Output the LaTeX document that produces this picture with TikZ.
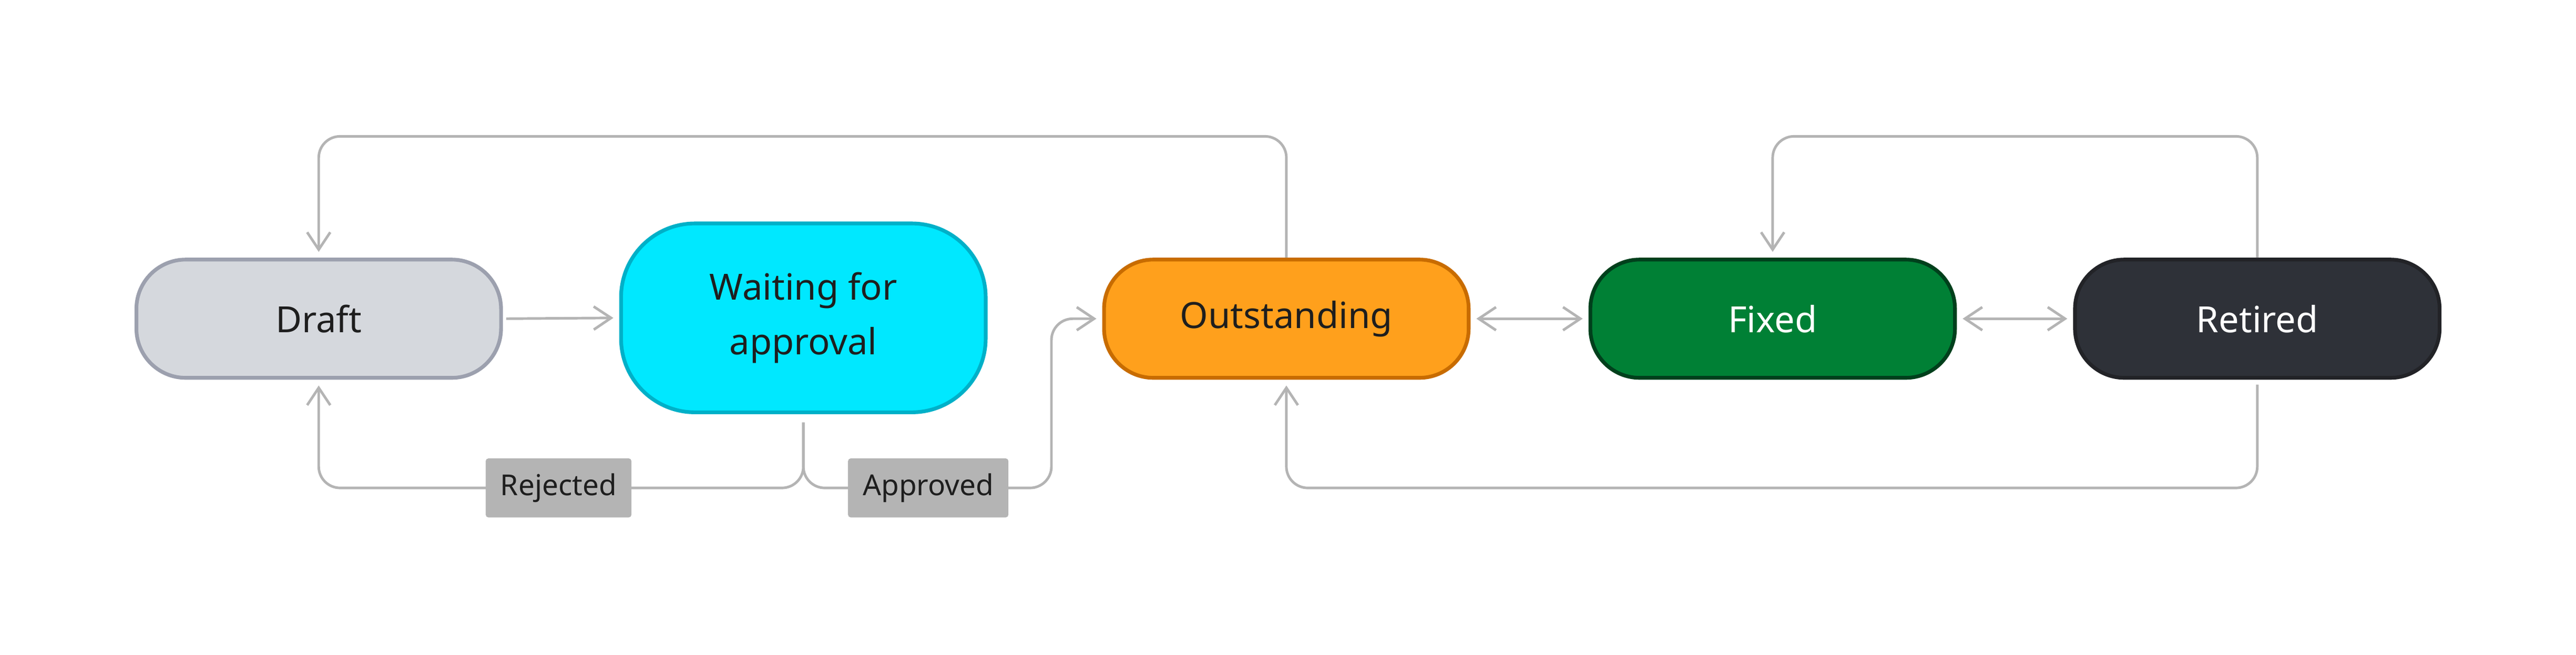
\documentclass[tikz,border=0pt]{standalone}
\usepackage{fontspec}
\setmainfont{Noto Sans}
\usetikzlibrary{arrows.meta}
\definecolor{conn}{HTML}{B4B4B4}
\definecolor{dfill}{HTML}{D5D8DD}\definecolor{ddraw}{HTML}{9CA0AE}
\definecolor{wfill}{HTML}{00E8FF}\definecolor{wdraw}{HTML}{00B0C8}
\definecolor{ofill}{HTML}{FFA01C}\definecolor{odraw}{HTML}{C86C00}
\definecolor{ffill}{HTML}{008035}\definecolor{fdraw}{HTML}{00401C}
\definecolor{rfill}{HTML}{2E3138}\definecolor{rdraw}{HTML}{222327}
\definecolor{txt}{HTML}{1E1E1E}
\tikzset{
 state/.style={draw, line width=1.3pt, rounded corners=0.6cm, minimum width=4.44cm, minimum height=1.44cm, align=center, font=\fontsize{12.5}{19}\selectfont, text=txt},
 lab/.style={fill=conn, rounded corners=1pt, minimum height=0.72cm, inner xsep=0.18cm, font=\fontsize{10}{12}\selectfont, text=txt},
 conn/.style={draw=conn, line width=0.9pt, rounded corners=0.26cm},
 tip/.style={-{Straight Barb[length=6pt,width=8pt]}, shorten >=2pt},
 tips/.style={{Straight Barb[length=6pt,width=8pt]}-{Straight Barb[length=6pt,width=8pt]}, shorten >=2pt, shorten <=2pt},
}
\begin{document}
\begin{tikzpicture}[x=0.02cm,y=-0.02cm]
\useasboundingbox (0,0) rectangle (1568,398.4);
\node[state, fill=dfill, draw=ddraw] (draft) at (194,194) {Draft};
\node[state, fill=wfill, draw=wdraw, minimum height=2.3cm, rounded corners=0.9cm] (wait) at (489,193.5) {Waiting for\\approval};
\node[state, fill=ofill, draw=odraw] (out) at (783,194) {Outstanding};
\node[state, fill=ffill, draw=fdraw, text=white] (fix) at (1079,194) {Fixed};
\node[state, fill=rfill, draw=rdraw, text=white] (ret) at (1374,194) {Retired};
\coordinate (top) at (0,83);
\coordinate (bot) at (0,297);
\coordinate (mid) at (640,0);
\draw[conn, tip] (draft.east) ++(2,0) coordinate (de) -- (wait.west);
\draw[conn, tip] (out.north) |- (draft.north |- top) -- (draft.north);
\draw[conn, tip] (ret.north) |- (fix.north |- top) -- (fix.north);
\draw[conn, tip] ([yshift=-0.1cm]wait.south) |- (draft.south |- bot) -- (draft.south);
\draw[conn, tip] ([yshift=-0.1cm]wait.south) |- (mid |- bot) |- (out.west);
\draw[conn, tip] ([yshift=-0.06cm]ret.south) |- (out.south |- bot) -- (out.south);
\draw[conn, tips] (out.east) -- (fix.west);
\draw[conn, tips] (fix.east) -- (ret.west);
\node[lab] (rej) at (340,297) {Rejected};
\node[lab] (app) at (565,297) {Approved};
\end{tikzpicture}
\end{document}
